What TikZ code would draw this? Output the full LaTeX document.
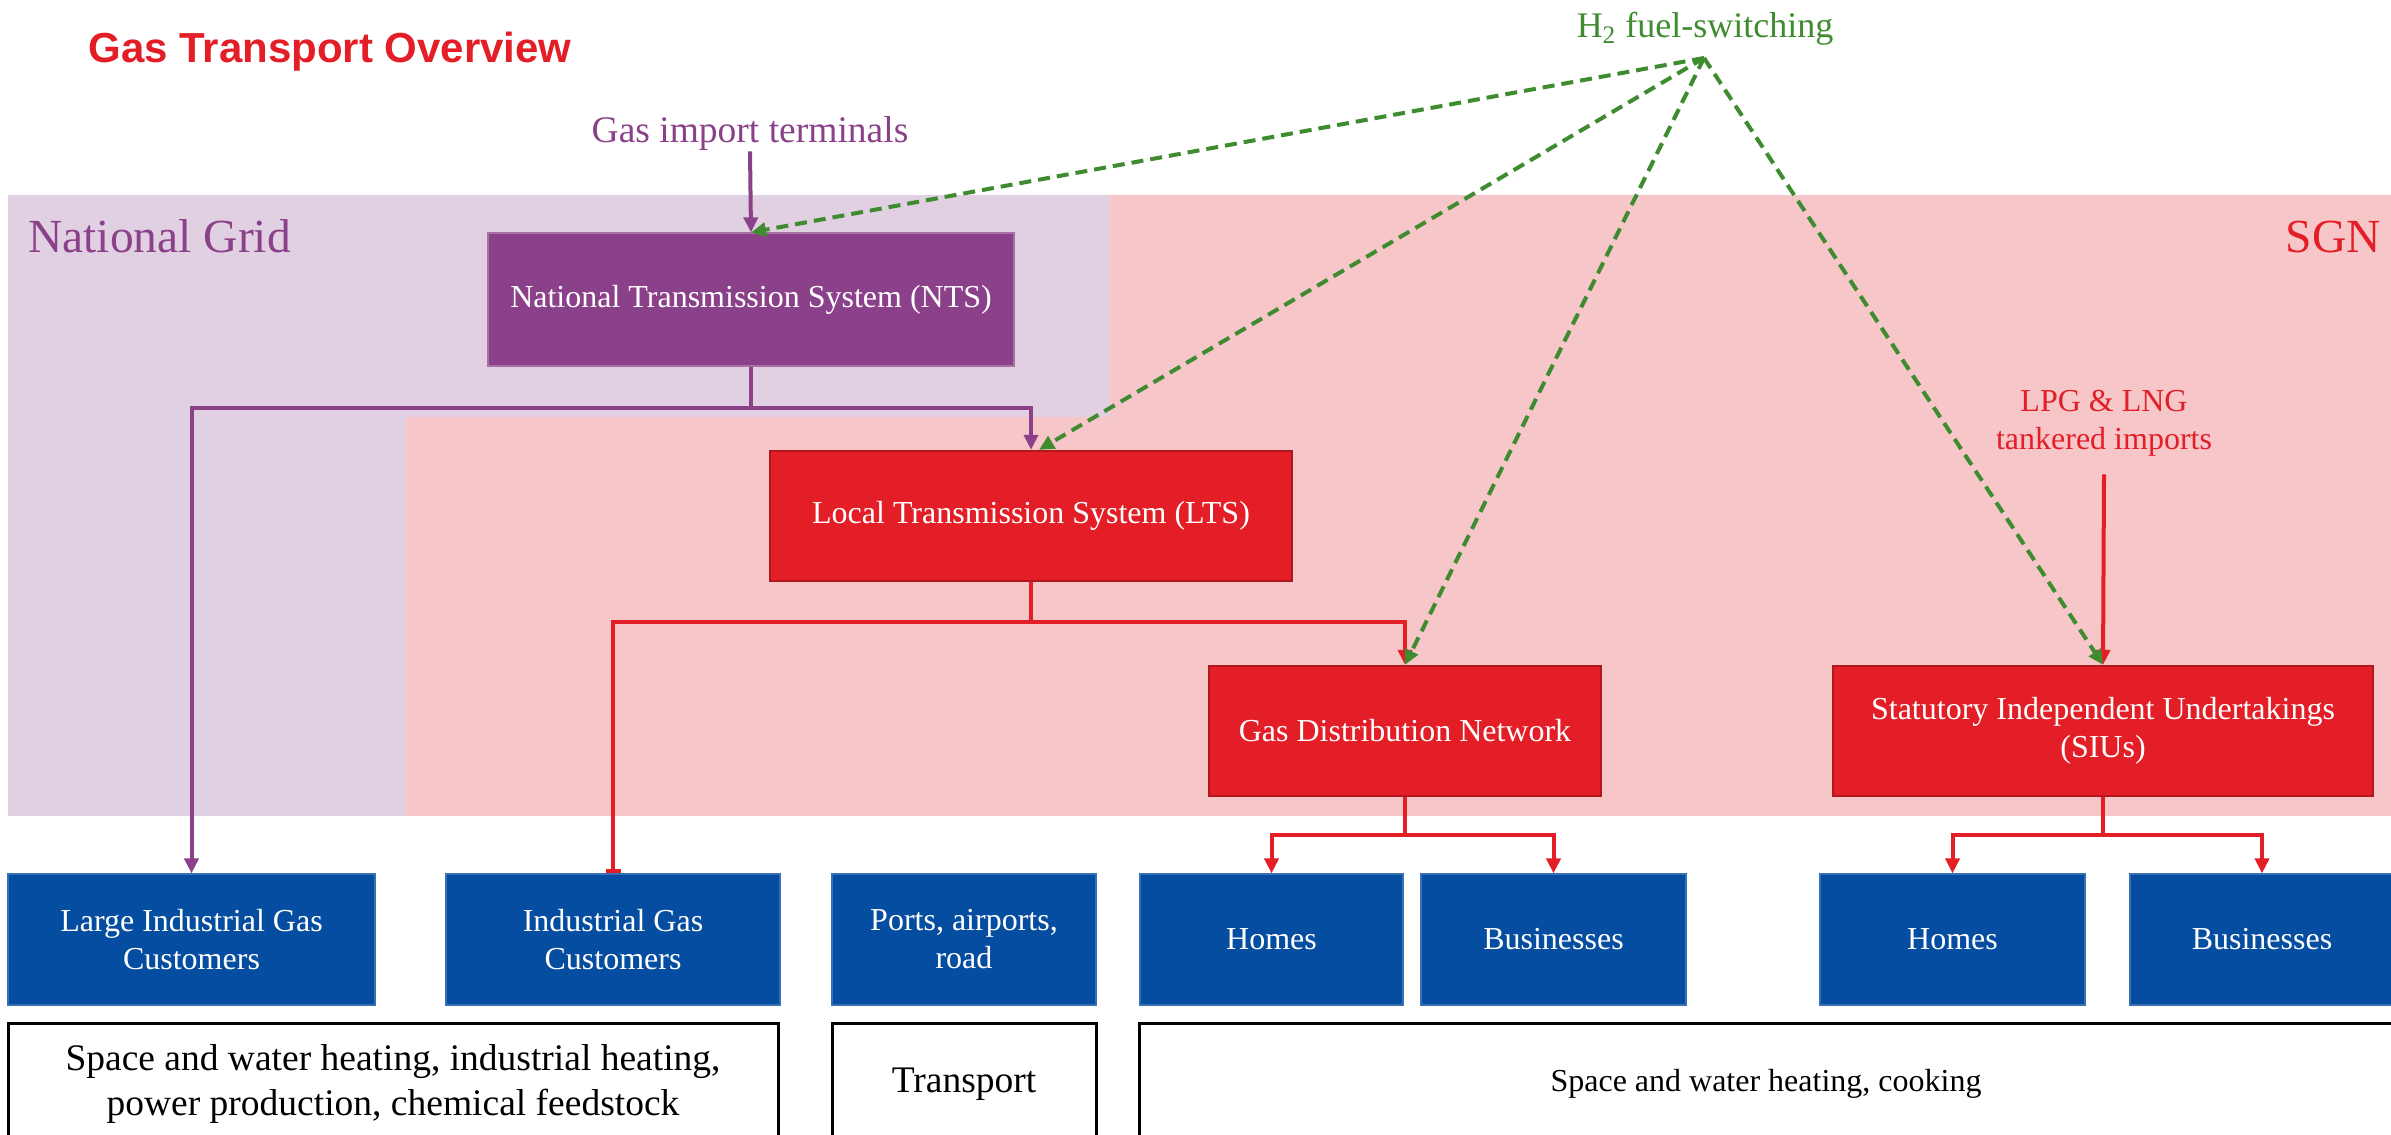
\documentclass[tikz,border=0pt]{standalone}
\usepackage{fontspec}
\setmainfont{Liberation Serif}
\newfontfamily\titlefont{Liberation Sans}
\usetikzlibrary{arrows.meta}
\definecolor{ngpurple}{HTML}{8B4189}
\definecolor{ngband}{HTML}{E0D0E2}
\definecolor{sgnband}{HTML}{F6C6C8}
\definecolor{sgnred}{HTML}{E31E26}
\definecolor{sgndark}{HTML}{B3171E}
\definecolor{hgreen}{HTML}{3E8C2F}
\definecolor{custblue}{HTML}{054DA1}
\tikzset{
  pbox/.style={fill=ngpurple, draw=ngpurple!75!white, line width=0.6pt, text=white,
    font=\fontsize{16}{19}\selectfont, align=center, inner sep=0pt},
  rbox/.style={fill=sgnred, draw=sgndark, line width=1.2pt, text=white,
    font=\fontsize{16}{19}\selectfont, align=center, inner sep=0pt},
  bbox/.style={fill=custblue, draw=custblue!80!white, line width=0.6pt, text=white,
    font=\fontsize{16}{19}\selectfont, align=center, inner sep=0pt, minimum height=65.5pt},
  ubox/.style={draw=black, line width=1.5pt, fill=white, align=center, inner sep=0pt,
    minimum height=61pt, font=\fontsize{18.75}{22.5}\selectfont},
  pline/.style={draw=ngpurple, line width=2pt},
  rline/.style={draw=sgnred, line width=2pt},
  gline/.style={draw=hgreen, line width=2pt, dash pattern=on 6pt off 3.5pt},
  tip/.style={-{Triangle[length=7.5pt,width=7pt]}},
  bartip/.style={-{Bar[width=7.5pt]}},
}
\begin{document}
\begin{tikzpicture}[x=0.5pt,y=-0.5pt]
\useasboundingbox (0,0) rectangle (2391,1134);
\clip (0,0) rectangle (2391,1134);
\fill[white] (0,0) rectangle (2391,1134);
% bands
\fill[ngband] (8,195) rectangle (1110,816);
\fill[sgnband] (1110,195) rectangle (2391,816);
\fill[sgnband] (406,417) rectangle (1110,816);
% labels
\node[anchor=base west, inner sep=0pt, text=sgnred, font=\titlefont\bfseries\fontsize{21}{25}\selectfont]
  (title) at (88,63) {Gas Transport Overview};
\node[anchor=base, inner sep=0pt, text=hgreen, font=\fontsize{18}{22}\selectfont]
  (h2) at (1705,38) {H\textsubscript{2} fuel-switching};
\coordinate (h2o) at (1704,58);
\node[anchor=base, inner sep=0pt, text=ngpurple, font=\fontsize{18.75}{22}\selectfont]
  (imp) at (750,143) {Gas import terminals};
\node[anchor=base west, inner sep=0pt, text=ngpurple, font=\fontsize{23.75}{28}\selectfont]
  (ng) at (28,253) {National Grid};
\node[anchor=base east, inner sep=0pt, text=sgnred, font=\fontsize{23.75}{28}\selectfont]
  (sgn) at (2381,253) {SGN};
\node[inner sep=0pt, text=sgnred, align=center, font=\fontsize{16}{19}\selectfont]
  (lpg) at (2104,423) {LPG \& LNG\\tankered imports};
% network boxes
\node[pbox, minimum width=263pt, minimum height=66.5pt] (nts) at (751,299.5) {National Transmission System (NTS)};
\node[rbox, minimum width=261pt, minimum height=65pt] (lts) at (1031,516) {Local Transmission System (LTS)};
\node[rbox, minimum width=196pt, minimum height=65pt] (gdn) at (1405,731) {Gas Distribution Network};
\node[rbox, minimum width=270pt, minimum height=65pt] (siu) at (2103,731) {Statutory Independent Undertakings\\(SIUs)};
% customer boxes
\node[bbox, minimum width=183.5pt] (lig) at (191.5,939.5) {Large Industrial Gas\\Customers};
\node[bbox, minimum width=167pt] (ig) at (613,939.5) {Industrial Gas\\Customers};
\node[bbox, minimum width=132pt] (ports) at (964,939.5) {Ports, airports,\\road};
\node[bbox, minimum width=131.5pt] (h1) at (1271.5,939.5) {Homes};
\node[bbox, minimum width=132.5pt] (b1) at (1553.5,939.5) {Businesses};
\node[bbox, minimum width=132.5pt] (h2c) at (1952.5,939.5) {Homes};
\node[bbox, minimum width=132pt] (b2) at (2262,939.5) {Businesses};
% use boxes
\node[ubox, minimum width=385pt] (u1) at (393,1084) {Space and water heating, industrial heating,\\power production, chemical feedstock};
\node[ubox, minimum width=132pt] (u2) at (964,1084) {Transport};
\node[ubox, minimum width=627pt, font=\fontsize{16}{19}\selectfont] (u3) at (1766,1084) {Space and water heating, cooking};
% purple connectors
\draw[pline, tip] (imp.south) -- (nts.north);
\draw[pline] (nts.south) -- (nts.south |- 0,408) coordinate (pj);
\draw[pline, tip] (pj) -| (lig.north);
\draw[pline, tip] (pj) -| (lts.north);
% red connectors
\draw[rline] (lts.south) -- (lts.south |- 0,622) coordinate (rj);
\draw[rline, bartip] (rj) -| (ig.north);
\draw[rline, tip] (rj) -| (gdn.north);
\draw[rline] (gdn.south) -- (gdn.south |- 0,835) coordinate (gj);
\draw[rline, tip] (gj) -| (h1.north);
\draw[rline, tip] (gj) -| (b1.north);
\draw[rline] (siu.south) -- (siu.south |- 0,835) coordinate (sj);
\draw[rline, tip] (sj) -| (h2c.north);
\draw[rline, tip] (sj) -| (b2.north);
\draw[rline, tip] ([yshift=-9pt]lpg.south) -- (siu.north);
% green dashed
\draw[gline, tip] (h2o) -- (nts.north);
\draw[gline, tip] (h2o) -- ([xshift=4pt]lts.north);
\draw[gline, tip] (h2o) -- (gdn.north);
\draw[gline, tip] (h2o) -- (siu.north);
\end{tikzpicture}
\end{document}
